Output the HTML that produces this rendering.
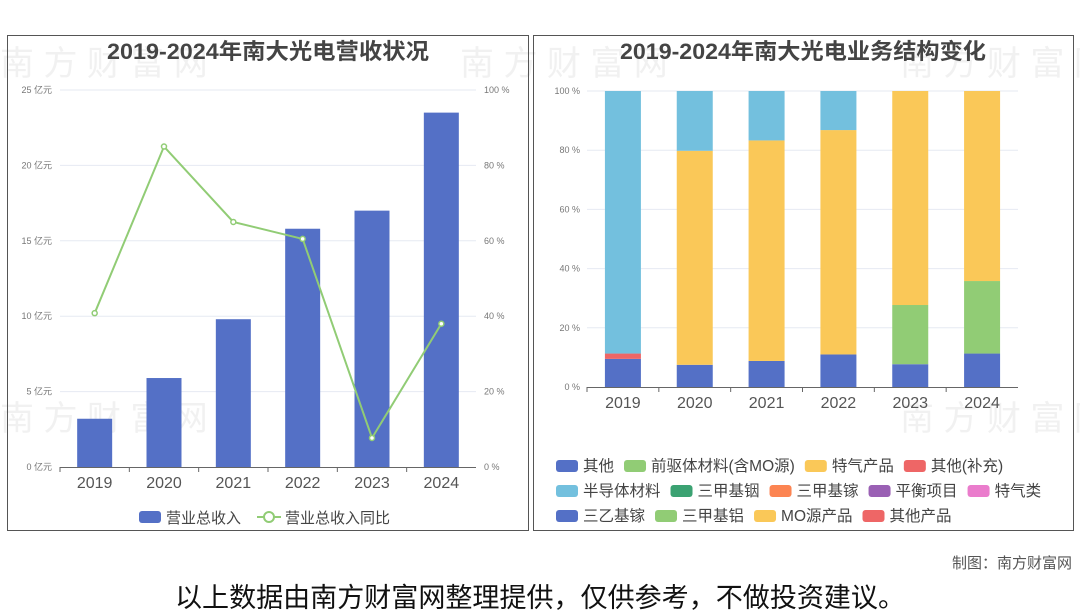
<!DOCTYPE html>
<html><head><meta charset="utf-8"><style>
body{margin:0;width:1080px;height:614px;background:#fff;overflow:hidden;font-family:"Liberation Sans","Noto Sans CJK SC",sans-serif}
svg{position:absolute;left:0;top:0}
</style></head><body>
<svg id="s" width="1080" height="614" font-family="Liberation Sans, Noto Sans CJK SC, sans-serif">
<g fill="#e4e4e4" opacity="0.5" font-size="34">
<text x="0" y="75">南 方 财 富 网</text><text x="460" y="75">南 方 财 富 网</text><text x="900" y="75">南 方 财 富 网</text>
<text x="0" y="430">南 方 财 富 网</text><text x="900" y="430">南 方 财 富 网</text>
</g>
<rect x="7.5" y="35.5" width="521" height="495" fill="none" stroke="#555"/>
<rect x="533.5" y="35.5" width="540" height="495" fill="none" stroke="#555"/>
<text x="268" y="59" text-anchor="middle" font-size="22" font-weight="bold" fill="#444" textLength="322" lengthAdjust="spacingAndGlyphs">2019-2024年南大光电营收状况</text>
<text x="803" y="59" text-anchor="middle" font-size="22" font-weight="bold" fill="#444" textLength="366" lengthAdjust="spacingAndGlyphs">2019-2024年南大光电业务结构变化</text>
<g id="L"></g><g id="R"></g>
<text x="1072" y="568" text-anchor="end" font-size="15" fill="#555">制图：南方财富网</text>
<text x="540" y="607" text-anchor="middle" font-size="27" fill="#111" textLength="730" lengthAdjust="spacingAndGlyphs">以上数据由南方财富网整理提供，仅供参考，不做投资建议。</text>
</svg>
<script>
const years=['2019','2020','2021','2022','2023','2024'];
const revenue=[3.2,5.9,9.8,15.8,17.0,23.5];
const growth=[40.8,85,65,60.5,7.7,38];
const revTicks=[0,5,10,15,20,25];
const pctTicks=[0,20,40,60,80,100];
const other=[9.5,7.5,8.8,11,7.7,11.3];
const precursor=[0,0,0,0,20,24.5];
const gasProducts=[0,72.3,74.5,75.8,72.3,64.2];
const otherSupp=[1.8,0,0,0,0,0];
const semi=[88.7,20.2,16.7,13.2,0,0];
const NS='http://www.w3.org/2000/svg';
function mk(p,t,a,txt){const e=document.createElementNS(NS,t);for(const k in a)e.setAttribute(k,a[k]);if(txt!==undefined)e.textContent=txt;p.appendChild(e);return e;}
const L=document.getElementById('L');
const lx0=60,lx1=476,ly0=467,ly1=90;
const lcw=(lx1-lx0)/years.length;
const ly=v=>ly0-(v/25)*(ly0-ly1);
const lp=v=>ly0-(v/100)*(ly0-ly1);
revTicks.forEach((t,i)=>{
 const y=ly(t);
 if(t>0){const g=mk(L,'line',{x1:lx0,x2:lx1,y1:y,y2:y,stroke:'#e6eaf2'});
 }
 const a=mk(L,'text',{x:52,y:y+3,'text-anchor':'end','font-size':9,fill:'#777'},t+' 亿元');
 
 const b=mk(L,'text',{x:484,y:lp(pctTicks[i])+3,'font-size':9,fill:'#777'},pctTicks[i]+' %');
 
});
const la=mk(L,'line',{x1:lx0,x2:lx1,y1:ly0+.5,y2:ly0+.5,stroke:'#666'});

years.forEach((yr,i)=>{
 const tk=mk(L,'line',{x1:lx0+i*lcw,x2:lx0+i*lcw,y1:ly0,y2:ly0+5,stroke:'#666'});
 
 const cx=lx0+(i+.5)*lcw;
 const r=mk(L,'rect',{x:cx-17.5,y:ly(revenue[i]),width:35,height:ly0-ly(revenue[i]),fill:'#5470c6'});
 
 const t=mk(L,'text',{x:cx,y:488,'text-anchor':'middle','font-size':16,fill:'#555'},yr);
 
});
const pts=growth.map((g,i)=>(lx0+(i+.5)*lcw)+','+lp(g)).join(' ');
const pl=mk(L,'polyline',{points:pts,fill:'none',stroke:'#91cc75','stroke-width':2});

growth.forEach((g,i)=>{const c=mk(L,'circle',{cx:lx0+(i+.5)*lcw,cy:lp(g),r:2.5,fill:'#fff',stroke:'#91cc75','stroke-width':1.5});
 });
const lg1=mk(L,'rect',{x:139,y:511,width:22,height:12,rx:3,fill:'#5470c6'});

const lt1=mk(L,'text',{x:166,y:523,'font-size':15,fill:'#444'},'营业总收入');

const ll=mk(L,'line',{x1:257,x2:281,y1:517,y2:517,stroke:'#91cc75','stroke-width':2});

const lc=mk(L,'circle',{cx:269,cy:517,r:5,fill:'#fff',stroke:'#91cc75','stroke-width':2});

const lt2=mk(L,'text',{x:285,y:523,'font-size':15,fill:'#444'},'营业总收入同比');

const R=document.getElementById('R');
const rx0=587,rx1=1018,ry0=387,ry1=91;
const rcw=(rx1-rx0)/years.length;
const ry=v=>ry0-(v/100)*(ry0-ry1);
pctTicks.forEach(t=>{
 const y=ry(t);
 if(t>0){const g=mk(R,'line',{x1:rx0,x2:rx1,y1:y,y2:y,stroke:'#e6eaf2'});
 }
 const a=mk(R,'text',{x:580,y:y+3,'text-anchor':'end','font-size':9,fill:'#777'},t+' %');
 
});
const ra=mk(R,'line',{x1:rx0,x2:rx1,y1:ry0+.5,y2:ry0+.5,stroke:'#666'});

const series=[[other,'#5470c6','other'],[precursor,'#91cc75','precursor'],[gasProducts,'#fac858','gas-products'],[otherSupp,'#ee6666','other-supplement'],[semi,'#73c0de','semiconductor']];
years.forEach((yr,i)=>{
 const tk=mk(R,'line',{x1:rx0+i*rcw,x2:rx0+i*rcw,y1:ry0,y2:ry0+5,stroke:'#666'});
 
 const cx=rx0+(i+.5)*rcw;let acc=0;
 series.forEach(s=>{const v=s[0][i];if(v>0){
  const r=mk(R,'rect',{x:cx-18,y:ry(acc+v),width:36,height:ry(acc)-ry(acc+v),fill:s[1]});
  }
  acc+=v;});
 const t=mk(R,'text',{x:cx,y:408,'text-anchor':'middle','font-size':16,fill:'#555'},yr);
 
});
const legendRows=[
 [['其他','#5470c6'],['前驱体材料(含MO源)','#91cc75'],['特气产品','#fac858'],['其他(补充)','#ee6666']],
 [['半导体材料','#73c0de'],['三甲基铟','#3ba272'],['三甲基镓','#fc8452'],['平衡项目','#9a60b4'],['特气类','#ea7ccc']],
 [['三乙基镓','#5470c6'],['三甲基铝','#91cc75'],['MO源产品','#fac858'],['其他产品','#ee6666']]];
legendRows.forEach((row,ri)=>{let x=556;const y=466+ri*25;
 row.forEach(it=>{
  const sw=mk(R,'rect',{x:x,y:y-6,width:22,height:12,rx:3,fill:it[1]});
  
  const t=mk(R,'text',{x:x+27,y:y+5,'font-size':15.5,fill:'#444'},it[0]);
  
  x+=27+t.getComputedTextLength()+10;});
});
</script>
</body></html>
